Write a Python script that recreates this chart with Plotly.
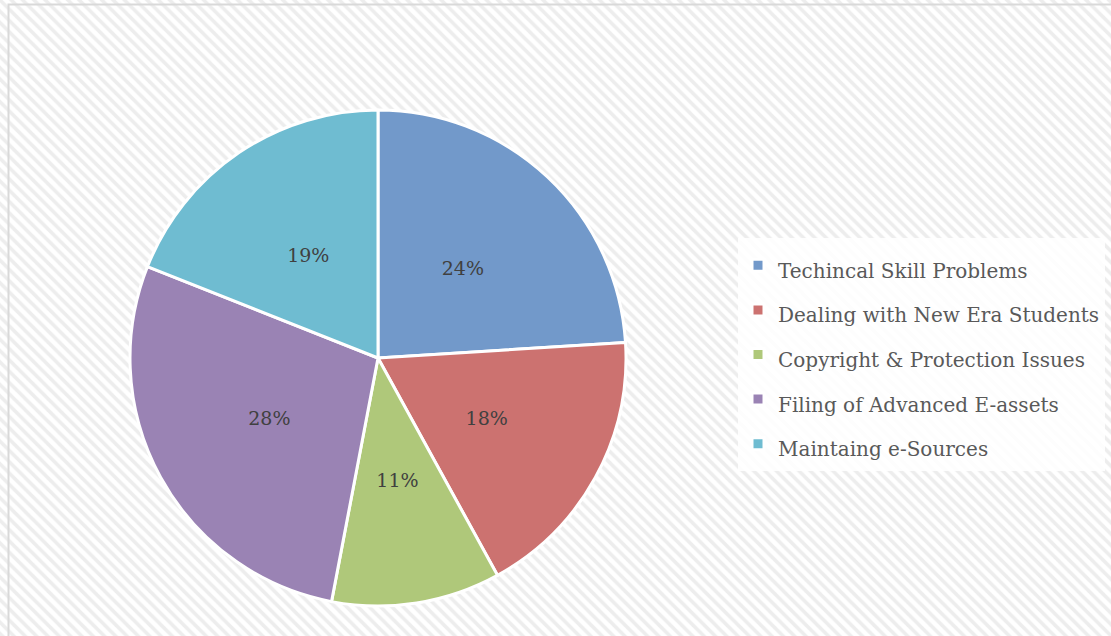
import plotly.graph_objects as go

categories = ["Techincal Skill Problems", "Dealing with New Era Students",
              "Copyright & Protection Issues", "Filing of Advanced E-assets",
              "Maintaing e-Sources"]
values = [24, 18, 11, 28, 19]
colors = ["#7299ca", "#cc7270", "#afc87a", "#9a83b4", "#6fbcd1"]

W, H = 1111, 636
FONT = "DejaVu Serif"

legend_labels = ['<span style="font-size:20px">%s</span>' % c for c in categories]

fig = go.Figure()

# hatched background
fig.add_trace(go.Scatter(
    x=[0, 1, 1, 0, 0], y=[0, 0, 1, 1, 0], mode="lines", fill="toself",
    line=dict(width=0), fillcolor="white",
    fillpattern=dict(shape="\\", fgcolor="#dcdcdc", bgcolor="white", size=8, solidity=0.45),
    hoverinfo="skip", showlegend=False))

cx, cy, r = 378, 358, 248


def dom(rad):
    return dict(x=[(cx - rad) / W, (cx + rad) / W], y=[1 - (cy + rad) / H, 1 - (cy - rad) / H])


# main pie (slices + legend)
fig.add_trace(go.Pie(
    labels=legend_labels, values=values, sort=False, direction="clockwise", rotation=0,
    marker=dict(colors=colors, line=dict(color="white", width=3)),
    textinfo="none", domain=dom(r), showlegend=True))

# transparent ring carrying the percentage labels at ~half radius
r2 = 0.5 * r / 0.75
fig.add_trace(go.Pie(
    labels=legend_labels, values=values, sort=False, direction="clockwise", rotation=0,
    hole=0.5,
    marker=dict(colors=["rgba(0,0,0,0)"] * len(values), line=dict(width=0)),
    texttemplate="%{percent:.0%}", textposition="inside", insidetextorientation="horizontal",
    textfont=dict(family=FONT, size=19, color="#404040"),
    hoverinfo="skip", domain=dom(r2), showlegend=False))

fig.add_shape(type="rect", xref="paper", yref="paper",
              x0=8.5 / W, x1=1.02, y0=-0.02, y1=1 - 4.5 / H,
              line=dict(color="#d9d9d9", width=2), fillcolor="rgba(0,0,0,0)")

fig.update_layout(
    width=W, height=H, margin=dict(l=0, r=0, t=0, b=0),
    paper_bgcolor="white", plot_bgcolor="rgba(0,0,0,0)",
    xaxis=dict(range=[0, 1], visible=False, domain=[0, 1], fixedrange=True),
    yaxis=dict(range=[0, 1], visible=False, domain=[0, 1], fixedrange=True),
    legend=dict(x=738 / W, y=1 - 238 / H, xanchor="left", yanchor="top",
                bgcolor="rgba(255,255,255,0.85)",
                font=dict(family=FONT, size=32, color="#595959")),
    showlegend=True,
)

fig.write_html("out.html", config={"displayModeBar": False},
               post_script="document.body.style.margin='0';")
